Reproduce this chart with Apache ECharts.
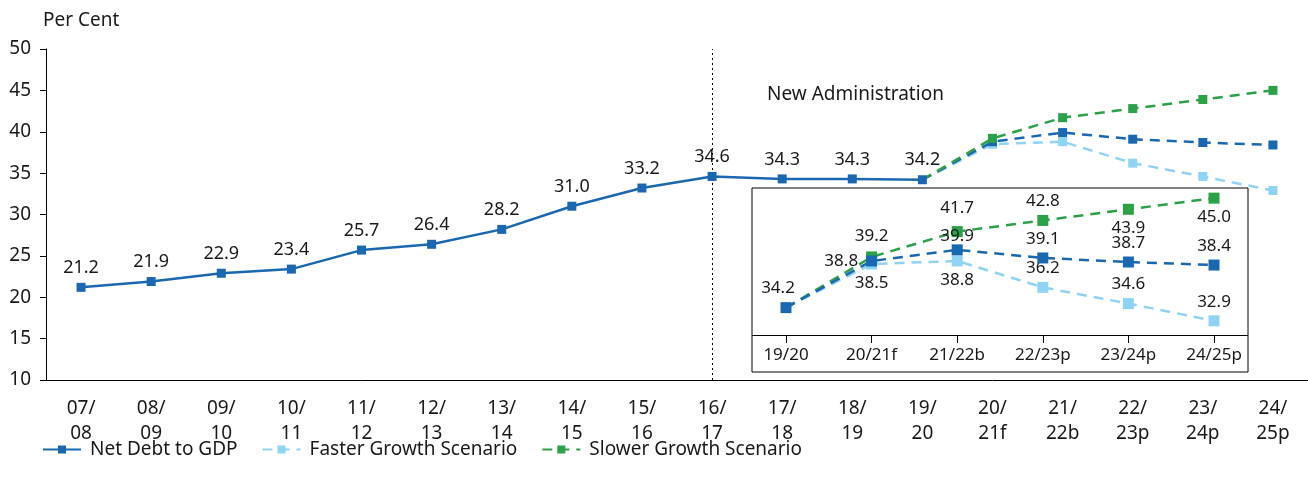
<!DOCTYPE html>
<html>
<head>
<meta charset="utf-8">
<script src="https://cdn.jsdelivr.net/npm/echarts@6/dist/echarts.min.js"></script>
<style>
  html, body { margin: 0; padding: 0; background: #fff; }
  #chart { width: 1308px; height: 487px; }
</style>
</head>
<body>
<div id="chart"></div>
<script>
// 축 카테고리
const years = ['07/\n08', '08/\n09', '09/\n10', '10/\n11', '11/\n12', '12/\n13', '13/\n14', '14/\n15', '15/\n16',
  '16/\n17', '17/\n18', '18/\n19', '19/\n20', '20/\n21f', '21/\n22b', '22/\n23p', '23/\n24p', '24/\n25p'];
const insetYears = ['19/20', '20/21f', '21/22b', '22/23p', '23/24p', '24/25p'];
const yTicks = [10, 15, 20, 25, 30, 35, 40, 45, 50];

// 실제값 (07/08 ~ 19/20)
const netDebt = [21.2, 21.9, 22.9, 23.4, 25.7, 26.4, 28.2, 31.0, 33.2, 34.6, 34.3, 34.3, 34.2];
// 전망 (19/20 ~ 24/25p)
const netDebtProj = [34.2, 38.8, 39.9, 39.1, 38.7, 38.4];
const faster = [34.2, 38.5, 38.8, 36.2, 34.6, 32.9];
const slower = [34.2, 39.2, 41.7, 42.8, 43.9, 45.0];

const BLUE = '#1a68b2';
const LIGHT = '#8fd4f5';
const GREEN = '#2ba247';
const FONT = 'Noto Sans';
const TXT = '#1a1a1a';

// 메인 차트용으로 앞부분을 null 로 채움
const pad = netDebt.length - 1;
function padded(arr) {
  const out = new Array(pad).fill(null);
  arr.forEach((v, i) => out.push(i === 0 ? { value: v, symbol: 'none' } : v));
  return out;
}
function insetData(arr, positions, first) {
  return arr.map((v, i) => {
    const item = { value: v };
    if (i === 0 && !first) item.symbol = 'none';
    const p = positions[i];
    if (p) item.label = Object.assign({ show: true }, p);
    else item.label = { show: false };
    return item;
  });
}

// 인셋 라벨 위치
const netPos = [{ position: 'top', offset: [-8, 0] }, { position: 'left', distance: 8 }, { position: 'top', distance: 0 },
  { position: 'top' }, { position: 'top' }, { position: 'top' }];
const fastPos = [null, { position: 'bottom' }, { position: 'bottom' }, { position: 'top' }, { position: 'top' }, { position: 'top' }];
const slowPos = [null, { position: 'top', distance: 7 }, { position: 'top', distance: 9 }, { position: 'top' },
  { position: 'bottom' }, { position: 'bottom' }];

const labelFmt = p => Number(p.value).toFixed(1);
const dash = [10, 7];

const option = {
  animation: false,
  textStyle: { fontFamily: FONT },
  title: {
    text: 'Per Cent', left: 38, top: 6,
    textStyle: { fontFamily: FONT, fontSize: 19, fontWeight: 'normal', color: TXT }
  },
  legend: {
    left: 37, top: 435, itemWidth: 38, itemHeight: 10, itemGap: 24,
    data: ['Net Debt to GDP', 'Faster Growth Scenario', 'Slower Growth Scenario'],
    textStyle: { fontFamily: FONT, fontSize: 19, color: TXT, padding: [0, 0, 0, 4] }
  },
  grid: [
    { left: 46, right: 0, top: 49, height: 331 },
    { left: 786, width: 428, top: 188, height: 147 }
  ],
  xAxis: [
    {
      type: 'category', data: years, gridIndex: 0, boundaryGap: true,
      axisLine: { lineStyle: { color: '#000', width: 1 } },
      axisTick: { alignWithLabel: true, length: 8, lineStyle: { color: '#000' } },
      axisLabel: { fontFamily: FONT, fontSize: 19, color: TXT, lineHeight: 25, margin: 16, interval: 0 }
    },
    {
      type: 'category', data: insetYears, gridIndex: 1, boundaryGap: false,
      axisLine: { show: false },
      axisTick: { show: true, length: 8, lineStyle: { color: '#000' } },
      axisLabel: { fontFamily: FONT, fontSize: 17, color: TXT, margin: 12, interval: 0 }
    }
  ],
  yAxis: [
    {
      type: 'value', gridIndex: 0, min: yTicks[0], max: yTicks[yTicks.length - 1], interval: 5,
      axisLine: { show: true, lineStyle: { color: '#000', width: 1 } },
      axisTick: { show: true, length: 6, lineStyle: { color: '#000' } },
      axisLabel: { fontFamily: FONT, fontSize: 19, color: TXT, margin: 15 },
      splitLine: { show: false }
    },
    {
      type: 'value', gridIndex: 1, min: 31.5, max: 46, show: false,
      splitLine: { show: false }
    }
  ],
  graphic: [
    {
      type: 'rect', z: 0,
      shape: { x: 752, y: 188, width: 496, height: 184 },
      style: { fill: '#fff', stroke: '#000', lineWidth: 1 }
    },
    {
      type: 'line', z: 1,
      shape: { x1: 752, y1: 335.5, x2: 1248, y2: 335.5 },
      style: { stroke: '#000', lineWidth: 1 }
    },
    {
      type: 'text', left: 767, top: 85,
      style: { text: 'New Administration', fontFamily: FONT, fontSize: 19, fill: TXT }
    }
  ],
  series: [
    {
      name: 'Net Debt to GDP', type: 'line', xAxisIndex: 0, yAxisIndex: 0,
      data: netDebt, symbol: 'rect', symbolSize: 9, z: 6,
      lineStyle: { color: BLUE, width: 2.5 }, itemStyle: { color: BLUE },
      label: { show: true, position: 'top', distance: 6, formatter: labelFmt,
        fontFamily: FONT, fontSize: 18, color: TXT },
      markLine: {
        silent: true, symbol: 'none', z: 1,
        label: { show: false },
        lineStyle: { color: '#000', type: [2, 3], width: 1 },
        data: [{ xAxis: years[9] }]
      }
    },
    {
      name: 'Faster Growth Scenario', type: 'line', xAxisIndex: 0, yAxisIndex: 0,
      data: padded(faster), symbol: 'rect', symbolSize: 9, z: 3,
      lineStyle: { color: LIGHT, width: 2.5, type: dash }, itemStyle: { color: LIGHT }
    },
    {
      name: 'Net Debt to GDP', type: 'line', xAxisIndex: 0, yAxisIndex: 0,
      data: padded(netDebtProj), symbol: 'rect', symbolSize: 9, z: 4,
      lineStyle: { color: BLUE, width: 2.5, type: dash }, itemStyle: { color: BLUE }
    },
    {
      name: 'Slower Growth Scenario', type: 'line', xAxisIndex: 0, yAxisIndex: 0,
      data: padded(slower), symbol: 'rect', symbolSize: 9, z: 5,
      lineStyle: { color: GREEN, width: 2.5, type: dash }, itemStyle: { color: GREEN }
    },
    // 인셋
    {
      name: 'inset-faster', type: 'line', xAxisIndex: 1, yAxisIndex: 1,
      data: insetData(faster, fastPos, false), symbol: 'rect', symbolSize: 11, z: 3,
      lineStyle: { color: LIGHT, width: 2.5, type: dash }, itemStyle: { color: LIGHT },
      label: { formatter: labelFmt, fontFamily: FONT, fontSize: 17, color: TXT }
    },
    {
      name: 'inset-slower', type: 'line', xAxisIndex: 1, yAxisIndex: 1,
      data: insetData(slower, slowPos, false), symbol: 'rect', symbolSize: 11, z: 4,
      lineStyle: { color: GREEN, width: 2.5, type: dash }, itemStyle: { color: GREEN },
      label: { formatter: labelFmt, fontFamily: FONT, fontSize: 17, color: TXT }
    },
    {
      name: 'inset-net', type: 'line', xAxisIndex: 1, yAxisIndex: 1,
      data: insetData(netDebtProj, netPos, true), symbol: 'rect', symbolSize: 11, z: 5,
      lineStyle: { color: BLUE, width: 2.5, type: dash }, itemStyle: { color: BLUE },
      label: { formatter: labelFmt, fontFamily: FONT, fontSize: 17, color: TXT }
    }
  ]
};

const chart = echarts.init(document.getElementById('chart'), null, { renderer: 'canvas' });
chart.setOption(option);
</script>
</body>
</html>
